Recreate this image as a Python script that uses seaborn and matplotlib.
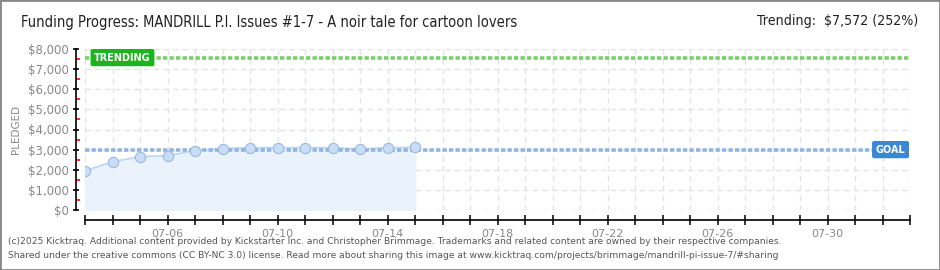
import matplotlib
matplotlib.use("Agg")
import matplotlib.pyplot as plt
import matplotlib.dates as mdates
from matplotlib.ticker import MultipleLocator, FuncFormatter
import seaborn as sns
import pandas as pd
import numpy as np

# ---- data ----
dates = pd.date_range("2025-07-03", "2025-07-15", freq="D")
pledged = [1950, 2400, 2650, 2700, 2950, 3050, 3100, 3100, 3100, 3100, 3030, 3100, 3110]
goal = 3000
trending = 7572
x_start = "2025-07-03"
x_end = "2025-08-02"
title = "Funding Progress: MANDRILL P.I. Issues #1-7 - A noir tale for cartoon lovers"
trend_text = "Trending:  $7,572 (252%)"
footer1 = ("(c)2025 Kicktraq. Additional content provided by Kickstarter Inc. and Christopher Brimmage. "
           "Trademarks and related content are owned by their respective companies.")
footer2 = ("Shared under the creative commons (CC BY-NC 3.0) license. Read more about sharing this image at "
           "www.kicktraq.com/projects/brimmage/mandrill-pi-issue-7/#sharing")

df = pd.DataFrame({"date": dates, "pledged": pledged})

sns.set_style("white")
plt.rcParams["font.family"] = ["DejaVu Sans"]

W, H = 940, 270
fig = plt.figure(figsize=(W / 100, H / 100), dpi=100)
ax = fig.add_axes([85 / W, (H - 210) / H, (910 - 85) / W, (210 - 49) / H])

x0 = pd.Timestamp(x_start)
x1 = pd.Timestamp(x_end)
ax.set_xlim(x0, x1)
ax.set_ylim(0, 8000)

# grid
ax.xaxis.set_major_locator(mdates.DayLocator(interval=1))
ax.yaxis.set_major_locator(MultipleLocator(1000))
ax.yaxis.set_minor_locator(MultipleLocator(500))
ax.grid(True, which="major", color="#e4e4e4", linestyle=(0, (4, 3)), linewidth=1)
ax.set_axisbelow(True)

# area + line + markers
ax.fill_between(df["date"], df["pledged"], 0, color="#eaf2fc", zorder=1)
sns.lineplot(data=df, x="date", y="pledged", ax=ax, color="#bcd6f2", linewidth=1.2, zorder=2)
sns.scatterplot(data=df, x="date", y="pledged", ax=ax, s=55, color="#c9ddf6",
                edgecolor="#9bb9de", linewidth=0.8, zorder=4)

# goal / trending lines
ax.axhline(goal, color="#8fb5e2", linewidth=2.6, linestyle=(0, (1.2, 0.6)), zorder=3)
ax.axhline(trending, color="#78cf6c", linewidth=2.6, linestyle=(0, (1.2, 0.6)), zorder=3)

ax.text(pd.Timestamp("2025-07-03 08:00"), trending, "TRENDING", fontsize=7, color="white",
        fontweight="bold", va="center", ha="left", zorder=6,
        bbox=dict(boxstyle="round,pad=0.3,rounding_size=0.15", fc="#1db31d", ec="#1db31d"))
ax.text(pd.Timestamp("2025-08-01 07:00"), goal, "GOAL", fontsize=7, color="white",
        fontweight="bold", va="center", ha="center", zorder=6,
        bbox=dict(boxstyle="round,pad=0.3,rounding_size=0.15", fc="#3a87d6", ec="#3a87d6"))

# spines
for s in ["top", "right"]:
    ax.spines[s].set_visible(False)
ax.spines["left"].set_position(("outward", 9 * 0.72))
ax.spines["bottom"].set_position(("outward", 10 * 0.72))
for s in ["left", "bottom"]:
    ax.spines[s].set_color("black")
    ax.spines[s].set_linewidth(1.2)

ax.yaxis.set_major_formatter(FuncFormatter(lambda v, p: f"${int(v):,}"))
ax.tick_params(axis="y", which="both", left=True)
ax.tick_params(axis="y", which="major", direction="inout", length=4, width=1.2,
               colors="black", labelcolor="#888888", labelsize=8.5, pad=3)
ax.tick_params(axis="y", which="minor", direction="in", length=3, width=1.2, colors="red")


def xfmt(v, p):
    d = mdates.num2date(v)
    if (d.date() - x0.date()).days % 4 == 3:
        return d.strftime("%m-%d")
    return ""


ax.xaxis.set_major_formatter(FuncFormatter(xfmt))
ax.tick_params(axis="x", which="major", bottom=True, direction="inout", length=7, width=1.1,
               colors="black", labelcolor="#888888", labelsize=8, pad=3)

ax.set_xlabel("")
ax.set_ylabel("PLEDGED", fontsize=7.5, color="#888888", labelpad=5)
ax.yaxis.label.set_position((0, 0.5))

# texts
fig.text(21 / W, 1 - 23 / H, title, fontsize=10.5, fontstretch="condensed", color="#222222",
         va="center", ha="left")
fig.text(918 / W, 1 - 21 / H, trend_text, fontsize=10.2, fontstretch="condensed", color="#222222",
         va="center", ha="right")
fig.text(8 / W, 1 - 242 / H, footer1, fontsize=6.6, color="#555555", va="center", ha="left")
fig.text(8 / W, 1 - 256 / H, footer2, fontsize=6.6, color="#555555", va="center", ha="left")

# border
fig.patches.append(plt.Rectangle((0, 0), 1, 1, transform=fig.transFigure, fill=False,
                                 edgecolor="#888888", linewidth=2))

fig.savefig("out.png", dpi=100)
